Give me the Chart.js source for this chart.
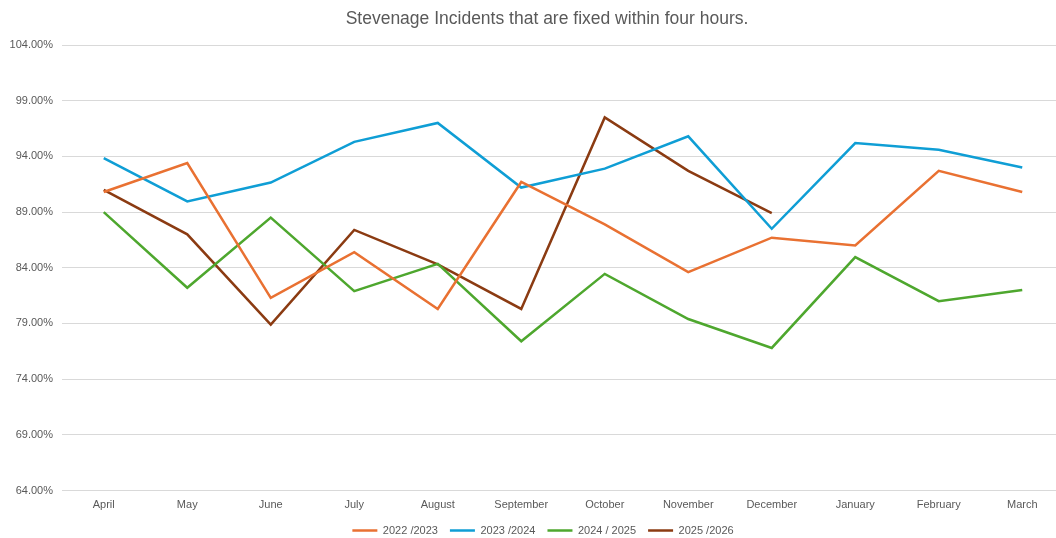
<!DOCTYPE html>
<html>
<head>
<meta charset="utf-8">
<script src="https://cdn.jsdelivr.net/npm/chart.js@4/dist/chart.umd.min.js"></script>
<style>
  html, body { margin: 0; padding: 0; background: #fff; overflow: hidden; width: 1056px; height: 538px; }
  #wrap { position: absolute; left: 0; top: 0; width: 1094px; height: 546px; }
</style>
</head>
<body>
<div id="wrap"><canvas id="c" width="1094" height="546"></canvas></div>
<script>
const titleText = 'Stevenage Incidents that are fixed within four hours.';
const months = ['April','May','June','July','August','September','October','November','December','January','February','March'];
const seriesNames = ['2022 /2023','2023 /2024','2024 / 2025','2025 /2026'];
const fy2022 = [90.8, 93.4, 81.3, 85.4, 80.3, 91.7, 87.9, 83.6, 86.7, 86.0, 92.7, 90.8];
const fy2023 = [93.85, 89.95, 91.65, 95.3, 97.0, 91.2, 92.9, 95.8, 87.5, 95.2, 94.6, 93.0];
const fy2024 = [89.0, 82.2, 88.5, 81.9, 84.35, 77.4, 83.45, 79.4, 76.8, 84.95, 81.0, 82.0];
const fy2025 = [91.0, 87.0, 78.9, 87.4, 84.3, 80.3, 97.5, 92.7, 88.9, null, null, null];
const yTicks = [64, 69, 74, 79, 84, 89, 94, 99, 104];
const colors = ['#E97132', '#0F9ED5', '#4EA72E', '#8B3B12'];
const allSeries = [fy2022, fy2023, fy2024, fy2025];

const font = "'Liberation Sans', Arial, sans-serif";
const grey = '#595959';

const shiftBoxes = {
  id: 'shiftBoxes',
  afterLayout(chart) {
    if (chart.titleBlock) {
      chart.titleBlock.left = 30;
      chart.titleBlock.width = chart.titleBlock.right - 30;
    }
    if (chart.legend) {
      chart.legend.left = 22;
      chart.legend.width = chart.legend.right - 22;
    }
  }
};

new Chart(document.getElementById('c'), {
  type: 'line',
  data: {
    labels: months,
    datasets: allSeries.map((d, i) => ({
      label: seriesNames[i],
      data: d,
      borderColor: colors[i],
      backgroundColor: colors[i],
      borderWidth: 2.5,
      pointRadius: 0,
      tension: 0,
      fill: false,
      spanGaps: false
    }))
  },
  plugins: [shiftBoxes],
  options: {
    responsive: false,
    animation: false,
    layout: { padding: { left: 0, right: 30, top: 0, bottom: 0 } },
    plugins: {
      title: {
        display: true,
        text: titleText,
        color: grey,
        font: { family: font, size: 17.5, weight: 'normal' },
        padding: { top: 8.5, bottom: 15.5 }
      },
      legend: {
        position: 'bottom',
        labels: {
          color: grey,
          font: { family: font, size: 11 },
          usePointStyle: true,
          pointStyle: 'line',
          pointStyleWidth: 25,
          padding: 12
        }
      },
      tooltip: { enabled: false }
    },
    scales: {
      x: {
        offset: true,
        grid: { display: false, drawTicks: false },
        border: { display: false },
        ticks: { color: grey, font: { family: font, size: 11 }, padding: 8, maxRotation: 0, autoSkip: false },
        afterFit: (s) => { s.height = 22.5; }
      },
      y: {
        min: 64,
        max: 104,
        afterBuildTicks: (s) => { s.ticks = yTicks.map(v => ({ value: v })); },
        grid: { color: '#d9d9d9', lineWidth: 1, drawTicks: false },
        border: { display: false },
        ticks: {
          color: grey,
          font: { family: font, size: 11 },
          padding: 9,
          callback: (v) => v.toFixed(2) + '%'
        },
        afterFit: (s) => { s.width = 62; }
      }
    }
  }
});
</script>
</body>
</html>
